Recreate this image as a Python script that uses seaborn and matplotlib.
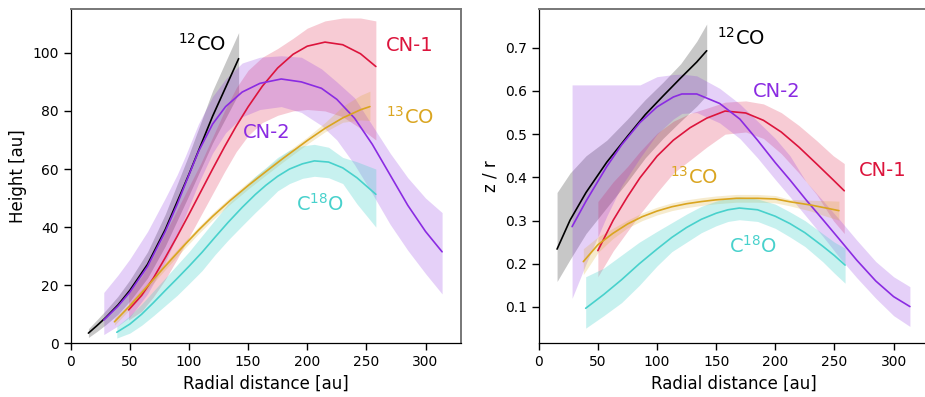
import numpy as np
import pandas as pd
import matplotlib
matplotlib.use("Agg")
import matplotlib.pyplot as plt
import seaborn as sns

# ---------------- emission surfaces: height [au] vs radius [au] ----------------
r_12co_h = [15, 22, 30, 40, 50, 65, 80, 100, 120, 142]
h_12co = [3.5, 6.0, 9.0, 13.2, 18.2, 27.2, 39.2, 58.2, 78.2, 98]
h_12co_lo = [2, 4, 6.5, 10, 14.5, 22.5, 33.5, 51, 69, 86]
h_12co_hi = [5, 8, 11.5, 16.2, 21.8, 31.5, 44.5, 65, 87, 107]

r_cn1_h = [49, 60, 70, 80, 90, 100, 110, 120, 130, 140, 150, 162, 175, 188, 200, 215, 230, 245, 258]
h_cn1 = [11.5, 16.5, 22.5, 29.5, 36.8, 44.4, 52.2, 60, 67.6, 74.8, 81.4, 88.5, 94.8, 99.5, 102.3, 103.7, 102.8, 99.7, 95.3]
h_cn1_lo = [8, 11, 16, 22, 29, 36.5, 44, 51.5, 59, 66, 71.5, 76, 78.5, 80, 80.5, 80, 78, 74, 70]
h_cn1_hi = [17, 23, 30, 38, 46, 54, 62, 71, 80, 88, 94, 98.5, 101.5, 105, 108.5, 111, 112, 112, 111]

r_cn2_h = [28, 40, 50, 65, 80, 90, 97, 108, 120, 131, 145, 160, 178, 195, 212, 225, 240, 255, 270, 285, 300, 314]
h_cn2 = [8, 12.8, 17.6, 26.5, 38.5, 47.8, 55, 66, 75.5, 81.5, 86.5, 89.5, 91, 90, 87.8, 84, 77.5, 68.5, 58, 47.5, 38.5, 31.5]
h_cn2_lo = [3, 6, 9, 17, 28, 37, 44, 55, 65.5, 72.5, 78, 80.5, 81.5, 79.5, 75, 70, 61.5, 51.5, 41, 32, 24, 17]
h_cn2_hi = [17.5, 23.5, 29, 38.5, 50, 58, 64.5, 75.5, 85, 91, 96.5, 98.5, 99, 98.5, 94.5, 90, 84.5, 75, 65.5, 57, 50, 45]

r_13co_h = [37, 50, 65, 80, 95, 108, 120, 135, 150, 165, 180, 200, 215, 230, 245, 253]
h_13co = [7.4, 12.9, 19.7, 26.6, 33.3, 38.9, 43.7, 49.2, 54.3, 59.1, 63.8, 69.8, 74, 77.6, 80.4, 81.5]
h_13co_lo = [6.2, 11.7, 18.5, 25.4, 32.1, 37.7, 42.5, 48.0, 53.1, 57.9, 62.6, 68.6, 72.8, 76.1, 76.9, 76.7]
h_13co_hi = [8.6, 14.1, 20.9, 27.8, 34.5, 40.1, 44.9, 50.4, 55.5, 60.3, 65.0, 71.0, 76.0, 81.6, 85.4, 86.8]

r_c18o_h = [39, 50, 60, 70, 80, 90, 100, 111, 122, 133, 145, 156, 165, 175, 185, 196, 206, 218, 230, 242, 258]
h_c18o = [3.8, 6.6, 10, 14, 18.2, 22.3, 26.5, 31.3, 36.5, 41.6, 46.8, 51.2, 54.4, 57.5, 60.0, 61.8, 62.8, 62.4, 60.4, 57, 51.3]
h_c18o_lo = [1.8, 3.5, 6.2, 9.5, 13, 16.5, 20.5, 25, 30.5, 35.5, 40.5, 45, 48.5, 52.5, 55, 56.8, 57.5, 57, 55, 48, 40]
h_c18o_hi = [5.8, 9.5, 13.5, 18, 22.5, 27, 31.5, 37, 42.5, 48, 53, 57.5, 60.5, 64, 66.5, 68, 68.5, 67.5, 64, 62.5, 60]

# ---------------- aspect ratio z/r vs radius [au] ----------------
r_12co_z = [15.5, 26.5, 40, 57.5, 75, 90, 105, 120, 133.6, 142]
z_12co = [0.234, 0.301, 0.365, 0.435, 0.495, 0.545, 0.588, 0.630, 0.667, 0.693]
z_12co_lo = [0.159, 0.21, 0.27, 0.33, 0.39, 0.445, 0.49, 0.53, 0.565, 0.59]
z_12co_hi = [0.365, 0.41, 0.45, 0.486, 0.535, 0.58, 0.62, 0.663, 0.715, 0.755]

r_cn1_z = [50, 63, 75, 85.6, 100, 113.8, 128, 142, 157.5, 175, 190, 205, 220, 235, 249, 258.3]
z_cn1 = [0.2305, 0.301, 0.355, 0.399, 0.449, 0.486, 0.515, 0.537, 0.5535, 0.549, 0.532, 0.505, 0.47, 0.431, 0.394, 0.369]
z_cn1_lo = [0.17, 0.23, 0.275, 0.315, 0.365, 0.41, 0.44, 0.47, 0.5, 0.505, 0.49, 0.455, 0.41, 0.36, 0.3, 0.27]
z_cn1_hi = [0.344, 0.39, 0.425, 0.46, 0.502, 0.53, 0.548, 0.56, 0.574, 0.577, 0.57, 0.55, 0.52, 0.485, 0.45, 0.432]

r_cn2_z = [28.2, 40, 57.5, 70, 85.6, 100, 113.8, 121, 133.6, 153, 170, 185, 200, 212.4, 226, 240.6, 255, 268.8, 285, 300, 313.8]
z_cn2 = [0.286, 0.345, 0.425, 0.475, 0.527, 0.563, 0.586, 0.593, 0.593, 0.571, 0.535, 0.486, 0.434, 0.394, 0.348, 0.301, 0.254, 0.2086, 0.16, 0.124, 0.101]
z_cn2_lo = [0.12, 0.2, 0.31, 0.38, 0.445, 0.5, 0.535, 0.548, 0.55, 0.526, 0.49, 0.445, 0.395, 0.355, 0.31, 0.262, 0.212, 0.168, 0.12, 0.08, 0.055]
z_cn2_hi = [0.614, 0.614, 0.614, 0.614, 0.614, 0.633, 0.638, 0.639, 0.635, 0.606, 0.57, 0.53, 0.49, 0.45, 0.39, 0.345, 0.3, 0.255, 0.205, 0.17, 0.147]

r_13co_z = [37.7, 50, 62.5, 75, 87.5, 100, 112.5, 125, 137.5, 150, 167, 185, 200, 212.4, 230, 243, 253.8]
z_13co = [0.205, 0.244, 0.27, 0.292, 0.309, 0.322, 0.332, 0.339, 0.344, 0.348, 0.3515, 0.3515, 0.35, 0.3435, 0.336, 0.329, 0.323]
z_13co_lo = [0.175, 0.226, 0.258, 0.283, 0.3, 0.313, 0.323, 0.33, 0.335, 0.339, 0.3425, 0.3425, 0.341, 0.334, 0.322, 0.31, 0.301]
z_13co_hi = [0.235, 0.262, 0.282, 0.301, 0.318, 0.331, 0.341, 0.348, 0.353, 0.357, 0.3605, 0.3605, 0.358, 0.349, 0.347, 0.346, 0.345]

r_c18o_z = [39.7, 55, 70, 85, 100, 112.5, 125, 137.5, 150, 160, 169.6, 185, 200, 212.4, 225, 240, 250, 259]
z_c18o = [0.097, 0.129, 0.163, 0.2, 0.234, 0.261, 0.284, 0.303, 0.317, 0.325, 0.329, 0.325, 0.31, 0.293, 0.272, 0.241, 0.219, 0.197]
z_c18o_lo = [0.051, 0.08, 0.11, 0.15, 0.195, 0.228, 0.25, 0.272, 0.288, 0.298, 0.302, 0.298, 0.282, 0.262, 0.24, 0.205, 0.178, 0.155]
z_c18o_hi = [0.17, 0.19, 0.22, 0.25, 0.275, 0.295, 0.315, 0.333, 0.345, 0.352, 0.355, 0.35, 0.338, 0.32, 0.3, 0.27, 0.25, 0.236]

species = ["12CO", "CN-1", "CN-2", "13CO", "C18O"]
colors = {"12CO": "black", "CN-1": "crimson", "CN-2": "blueviolet",
          "13CO": "goldenrod", "C18O": "mediumturquoise"}
labels = {"12CO": r"$^{12}$CO", "CN-1": "CN-1", "CN-2": "CN-2",
          "13CO": r"$^{13}$CO", "C18O": r"C$^{18}$O"}

height = {
    "12CO": (r_12co_h, h_12co, h_12co_lo, h_12co_hi),
    "CN-1": (r_cn1_h, h_cn1, h_cn1_lo, h_cn1_hi),
    "CN-2": (r_cn2_h, h_cn2, h_cn2_lo, h_cn2_hi),
    "13CO": (r_13co_h, h_13co, h_13co_lo, h_13co_hi),
    "C18O": (r_c18o_h, h_c18o, h_c18o_lo, h_c18o_hi),
}
aspect = {
    "12CO": (r_12co_z, z_12co, z_12co_lo, z_12co_hi),
    "CN-1": (r_cn1_z, z_cn1, z_cn1_lo, z_cn1_hi),
    "CN-2": (r_cn2_z, z_cn2, z_cn2_lo, z_cn2_hi),
    "13CO": (r_13co_z, z_13co, z_13co_lo, z_13co_hi),
    "C18O": (r_c18o_z, z_c18o, z_c18o_lo, z_c18o_hi),
}

# label anchor positions in data coordinates
label_pos_h = {"12CO": (111, 103), "CN-1": (287, 102.5), "CN-2": (166, 72.6),
               "13CO": (287, 78), "C18O": (211, 47.9)}
label_pos_z = {"12CO": (171, 0.722), "CN-1": (290.6, 0.417), "CN-2": (201, 0.598),
               "13CO": (131, 0.4014), "C18O": (181, 0.2414)}


def to_frame(table):
    rows = []
    for sp in species:
        r, v, lo, hi = table[sp]
        rows.append(pd.DataFrame({"r": r, "v": v, "lo": lo, "hi": hi, "species": sp}))
    return pd.concat(rows, ignore_index=True)


df_h = to_frame(height)
df_z = to_frame(aspect)

sns.set_style("ticks")
plt.rcParams["font.family"] = ["DejaVu Sans"]
plt.rcParams["mathtext.default"] = "regular"
plt.rcParams["text.color"] = "black"
plt.rcParams["axes.labelcolor"] = "black"
plt.rcParams["xtick.color"] = "black"
plt.rcParams["ytick.color"] = "black"

fig = plt.figure(figsize=(9.25, 3.97), dpi=100)
ax1 = fig.add_axes([0.0764, 0.1353, 0.4220, 0.8413])
ax2 = fig.add_axes([0.5824, 0.1353, 0.4220, 0.8413])


def draw(ax, df, pos, ylim, ylabel, yticks):
    for sp in species:
        d = df[df["species"] == sp]
        alpha = 0.22 if sp != "C18O" else 0.3
        ax.fill_between(d["r"], d["lo"], d["hi"], color=colors[sp], alpha=alpha,
                        linewidth=0)
    sns.lineplot(data=df, x="r", y="v", hue="species", palette=colors,
                 hue_order=species, estimator=None, sort=False, legend=False,
                 linewidth=1.2, ax=ax)
    for sp in species:
        x, y = pos[sp]
        ax.text(x, y, labels[sp], color=colors[sp], fontsize=14,
                ha="center", va="center")
    ax.set_xlim(0, 330)
    ax.set_ylim(*ylim)
    ax.set_xticks([0, 50, 100, 150, 200, 250, 300])
    ax.set_yticks(yticks)
    ax.set_xlabel("Radial distance [au]", fontsize=12)
    ax.set_ylabel(ylabel, fontsize=12)
    ax.tick_params(direction="out", length=5, width=1, labelsize=10,
                   color="black", labelcolor="black")
    for side in ("left", "bottom"):
        ax.spines[side].set_color("black")
        ax.spines[side].set_linewidth(0.9)
    for side in ("top", "right"):
        ax.spines[side].set_color("#777777")
        ax.spines[side].set_linewidth(1.4)


draw(ax1, df_h, label_pos_h, (0, 115), "Height [au]", [0, 20, 40, 60, 80, 100])
draw(ax2, df_z, label_pos_z, (0.016, 0.789), "z / r", [0.1, 0.2, 0.3, 0.4, 0.5, 0.6, 0.7])

fig.savefig("out.png", dpi=100)
